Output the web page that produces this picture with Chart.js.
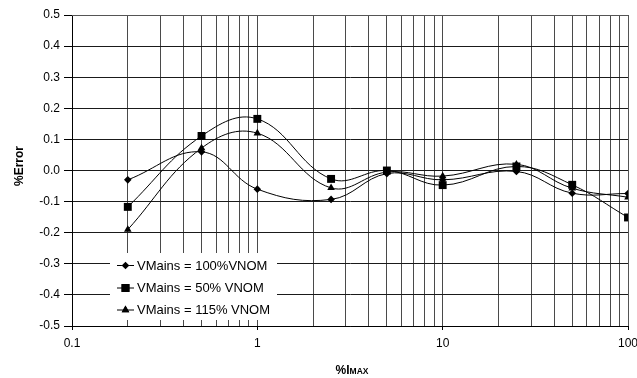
<!DOCTYPE html>
<html>
<head>
<meta charset="utf-8">
<script src="https://cdn.jsdelivr.net/npm/chart.js@4/dist/chart.umd.min.js"></script>
<style>
  html, body { margin: 0; padding: 0; background: #fff; overflow: hidden; }
  #wrap { width: 637px; height: 378px; }
</style>
</head>
<body>
<div id="wrap"><canvas id="grafico"></canvas></div>
<script>
// dati
var correnti = [0.2, 0.5, 1, 2.5, 5, 10, 25, 50, 100];   // %Imax
var errore100 = [-0.03, 0.06, -0.06, -0.093, -0.01, -0.03, -0.003, -0.073, -0.074];
var errore50 = [-0.117, 0.111, 0.166, -0.027, 0.0, -0.047, 0.013, -0.046, -0.151];
var errore115 = [-0.19, 0.072, 0.12, -0.056, -0.005, -0.018, 0.02, -0.057, -0.086];
var nomiSerie = ['VMains = 100%VNOM', 'VMains = 50% VNOM', 'VMains = 115% VNOM'];
var tickX = [0.1, 0.2, 0.3, 0.4, 0.5, 0.6, 0.7, 0.8, 0.9, 1, 2, 3, 4, 5, 6, 7, 8, 9,
             10, 20, 30, 40, 50, 60, 70, 80, 90, 100];
var tickXmaggiori = [0.1, 1, 10, 100];

function punti(valori) {
    var out = [];
    for (var i = 0; i < correnti.length; i++) {
        out.push({ x: correnti[i], y: valori[i] });
    }
    return out;
}

var stili = ['rectRot', 'rect', 'triangle'];
var raggi = [3.8, 5.6, 4.4];
var serie = [errore100, errore50, errore115];

var datasets = [];
for (var s = 0; s < serie.length; s++) {
    datasets.push({
        label: nomiSerie[s],
        data: punti(serie[s]),
        borderColor: '#000',
        backgroundColor: '#000',
        borderWidth: 1,
        pointStyle: stili[s],
        pointRadius: raggi[s],
        pointBorderWidth: 0,
        tension: 0.4
    });
}

function isMaggiore(v) {
    return tickXmaggiori.indexOf(v) >= 0;
}

// legenda dentro il grafico + bordo + titoli assi
var extra = {
    id: 'extra',
    afterDraw: function (chart) {
        var ctx = chart.ctx;
        var a = chart.chartArea;
        ctx.save();
        // bordo superiore e destro
        ctx.strokeStyle = '#555';
        ctx.lineWidth = 1;
        ctx.beginPath();
        ctx.moveTo(a.left, a.top + 0.5);
        ctx.lineTo(a.right + 0.5, a.top + 0.5);
        ctx.lineTo(a.right + 0.5, a.bottom);
        ctx.stroke();

        // legenda
        ctx.fillStyle = '#fff';
        ctx.fillRect(110, 253, 167, 67);
        var righe = [265, 287.5, 309.5];
        ctx.font = '13px Arial, "Liberation Sans", sans-serif';
        ctx.textBaseline = 'middle';
        ctx.textAlign = 'left';
        for (var i = 0; i < righe.length; i++) {
            var y = righe[i];
            ctx.strokeStyle = '#000';
            ctx.beginPath();
            ctx.moveTo(117, y + 0.5);
            ctx.lineTo(134, y + 0.5);
            ctx.stroke();
            Chart.helpers.drawPoint(ctx, {
                pointStyle: stili[i], radius: raggi[i], rotation: 0, borderWidth: 0
            }, 125.5, y + 0.5);
            ctx.fillStyle = '#000';
            ctx.fill();
            ctx.fillText(nomiSerie[i], 137, y + 1);
        }

        // titolo asse y
        ctx.fillStyle = '#000';
        ctx.font = 'bold 12px Arial, "Liberation Sans", sans-serif';
        ctx.translate(20, 166);
        ctx.rotate(-Math.PI / 2);
        ctx.textAlign = 'center';
        ctx.fillText('%Error', 0, 0);
        ctx.restore();

        // titolo asse x con maiuscoletto
        ctx.save();
        ctx.fillStyle = '#000';
        ctx.textBaseline = 'alphabetic';
        ctx.font = 'bold 12px Arial, "Liberation Sans", sans-serif';
        var p1 = '%I';
        var w1 = ctx.measureText(p1).width;
        ctx.font = 'bold 8.5px Arial, "Liberation Sans", sans-serif';
        var w2 = ctx.measureText('MAX').width;
        var x0 = 352 - (w1 + w2) / 2;
        ctx.font = 'bold 12px Arial, "Liberation Sans", sans-serif';
        ctx.fillText(p1, x0, 374);
        ctx.font = 'bold 8.5px Arial, "Liberation Sans", sans-serif';
        ctx.fillText('MAX', x0 + w1, 374);
        ctx.restore();
    }
};

var ctx = document.getElementById('grafico').getContext('2d');
var chart = new Chart(ctx, {
    type: 'line',
    data: { datasets: datasets },
    options: {
        responsive: true,
        maintainAspectRatio: false,
        animation: false,
        layout: { padding: { left: 0, right: 9, top: 15, bottom: 0 } },
        plugins: {
            legend: { display: false },
            tooltip: { enabled: false }
        },
        scales: {
            x: {
                type: 'logarithmic',
                min: 0.1,
                max: 100,
                afterBuildTicks: function (scale) {
                    scale.ticks = tickX.map(function (v) { return { value: v, major: isMaggiore(v) }; });
                },
                afterFit: function (scale) {
                    scale.height = 52;
                    scale.paddingLeft = 0;
                    scale.paddingRight = 0;
                },
                ticks: {
                    autoSkip: false,
                    maxRotation: 0,
                    padding: 6,
                    color: '#000',
                    font: { family: 'Arial, "Liberation Sans", sans-serif', size: 12 },
                    callback: function (v) {
                        return isMaggiore(v) ? String(v) : '';
                    }
                },
                grid: {
                    color: '#4a4a4a',
                    lineWidth: 1,
                    tickLength: 4,
                    tickColor: function (c) {
                        return c.tick && isMaggiore(c.tick.value) ? '#000' : 'rgba(0,0,0,0)';
                    }
                },
                border: { color: '#000', width: 1 }
            },
            y: {
                min: -0.5,
                max: 0.5,
                afterFit: function (scale) {
                    scale.width = 72;
                    scale.paddingTop = 0;
                    scale.paddingBottom = 0;
                },
                ticks: {
                    stepSize: 0.1,
                    padding: 4,
                    color: '#000',
                    font: { family: 'Arial, "Liberation Sans", sans-serif', size: 12 },
                    callback: function (v) { return v.toFixed(1); }
                },
                grid: {
                    color: '#1a1a1a',
                    lineWidth: 1,
                    tickLength: 8,
                    tickColor: '#000'
                },
                border: { color: '#000', width: 1 }
            }
        }
    },
    plugins: [extra]
});
</script>
</body>
</html>
